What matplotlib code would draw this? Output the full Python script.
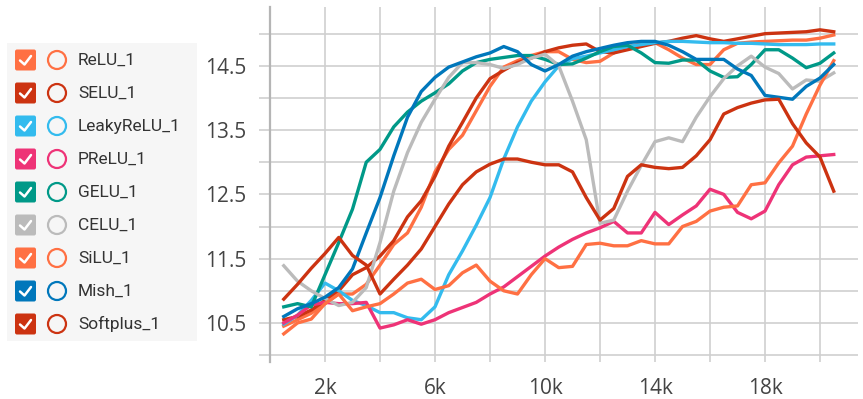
import numpy as np
import matplotlib
matplotlib.use("Agg")
import matplotlib.pyplot as plt
from matplotlib.patches import FancyBboxPatch, Circle, Rectangle

# training steps (thousands)
steps = np.arange(0.5, 20.51, 0.5)

relu = [10.45, 10.55, 10.65, 10.80, 10.95, 10.95, 11.10, 11.40, 11.72, 11.90,
        12.30, 12.85, 13.20, 13.42, 13.80, 14.18, 14.48, 14.58, 14.66, 14.72,
        14.72, 14.60, 14.55, 14.57, 14.70, 14.80, 14.84, 14.86, 14.75, 14.62,
        14.52, 14.52, 14.75, 14.85, 14.87, 14.88, 14.89, 14.90, 14.90, 14.93, 14.98]
selu = [10.55, 10.60, 10.70, 10.85, 11.00, 11.25, 11.36, 11.54, 11.78, 12.15,
        12.40, 12.78, 13.25, 13.62, 14.00, 14.30, 14.43, 14.55, 14.62, 14.72,
        14.78, 14.82, 14.84, 14.72, 14.70, 14.75, 14.80, 14.85, 14.88, 14.93,
        14.97, 14.92, 14.88, 14.92, 14.96, 15.00, 15.01, 15.02, 15.03, 15.06, 15.03]
leaky = [10.48, 10.62, 10.85, 11.12, 11.00, 10.85, 10.77, 10.66, 10.66, 10.58,
         10.55, 10.75, 11.25, 11.62, 12.02, 12.45, 13.05, 13.55, 13.95, 14.25,
         14.50, 14.61, 14.65, 14.70, 14.75, 14.80, 14.83, 14.86, 14.88, 14.88,
         14.87, 14.86, 14.86, 14.85, 14.85, 14.84, 14.83, 14.83, 14.83, 14.84, 14.84]
prelu = [10.50, 10.62, 10.78, 10.82, 10.80, 10.80, 10.82, 10.42, 10.47, 10.55,
         10.48, 10.55, 10.66, 10.74, 10.82, 10.95, 11.06, 11.22, 11.38, 11.54,
         11.68, 11.80, 11.90, 11.98, 12.08, 11.90, 11.90, 12.22, 12.03, 12.18,
         12.32, 12.58, 12.50, 12.22, 12.12, 12.24, 12.65, 12.96, 13.08, 13.10, 13.12]
gelu = [10.75, 10.80, 10.75, 11.25, 11.75, 12.27, 13.00, 13.20, 13.55, 13.78,
        13.95, 14.08, 14.22, 14.42, 14.55, 14.60, 14.63, 14.66, 14.66, 14.60,
        14.52, 14.53, 14.62, 14.72, 14.80, 14.82, 14.70, 14.55, 14.54, 14.59,
        14.59, 14.42, 14.32, 14.33, 14.52, 14.75, 14.75, 14.62, 14.47, 14.54, 14.70]
celu = [11.39, 11.15, 11.00, 10.88, 10.77, 10.82, 11.05, 11.75, 12.55, 13.15,
        13.62, 13.98, 14.32, 14.55, 14.55, 14.52, 14.46, 14.52, 14.62, 14.68,
        14.50, 13.95, 13.35, 12.05, 12.10, 12.55, 12.95, 13.32, 13.38, 13.32,
        13.70, 14.02, 14.30, 14.50, 14.65, 14.48, 14.38, 14.14, 14.28, 14.26, 14.39]
silu = [10.33, 10.50, 10.56, 10.80, 10.95, 10.69, 10.75, 10.80, 10.95, 11.12,
        11.18, 11.02, 11.08, 11.28, 11.40, 11.15, 11.00, 10.95, 11.25, 11.50,
        11.36, 11.38, 11.72, 11.74, 11.70, 11.70, 11.78, 11.73, 11.73, 12.00,
        12.08, 12.24, 12.30, 12.32, 12.65, 12.68, 12.99, 13.25, 13.75, 14.20, 14.58]
mish = [10.60, 10.72, 10.80, 10.90, 11.05, 11.34, 11.90, 12.45, 13.10, 13.70,
        14.10, 14.32, 14.48, 14.56, 14.64, 14.70, 14.80, 14.72, 14.52, 14.42,
        14.52, 14.65, 14.72, 14.77, 14.82, 14.86, 14.88, 14.88, 14.82, 14.72,
        14.60, 14.60, 14.60, 14.45, 14.35, 14.04, 14.01, 13.98, 14.18, 14.31, 14.52]
softplus = [10.87, 11.10, 11.35, 11.58, 11.83, 11.55, 11.40, 10.95, 11.18, 11.40,
            11.65, 12.00, 12.35, 12.65, 12.85, 12.97, 13.05, 13.05, 13.00, 12.96,
            12.96, 12.85, 12.45, 12.10, 12.28, 12.78, 12.96, 12.92, 12.90, 12.92,
            13.10, 13.35, 13.75, 13.85, 13.92, 13.97, 13.98, 13.60, 13.30, 13.08, 12.55]

names = ["ReLU_1", "SELU_1", "LeakyReLU_1", "PReLU_1", "GELU_1",
         "CELU_1", "SiLU_1", "Mish_1", "Softplus_1"]
series = [relu, selu, leaky, prelu, gelu, celu, silu, mish, softplus]
colors = ["#ff7043", "#cc3311", "#33bbee", "#ee3377", "#009988",
          "#bbbbbb", "#ff7043", "#0077bb", "#cc3311"]

yticks = [10.0, 10.5, 11.0, 11.5, 12.0, 12.5, 13.0, 13.5, 14.0, 14.5, 15.0]
ylabels = ["", "10.5", "", "11.5", "", "12.5", "", "13.5", "", "14.5", ""]
xticks = [2, 4, 6, 8, 10, 12, 14, 16, 18, 20]
xlabels = ["2k", "", "6k", "", "10k", "", "14k", "", "18k", ""]

W, H = 863, 399
fig = plt.figure(figsize=(W / 100, H / 100), dpi=100)
fig.patch.set_facecolor("white")

grid_c = "#cfcfcf"
ax = fig.add_axes([270 / W, (H - 361.5) / H, 588 / W, (361.5 - 7) / H])
ax.set_xlim(0, 588 / 27.5)
ax.set_ylim(9.9, 15.415)
ax.set_yticks(yticks)
ax.set_yticklabels(ylabels)
ax.set_xticks(xticks)
ax.set_xticklabels(xlabels)
ax.grid(True, color=grid_c, linewidth=1.2)
ax.set_axisbelow(True)
for s in ["top", "right", "bottom"]:
    ax.spines[s].set_visible(False)
ax.spines["left"].set_color("#b5b5b5")
ax.spines["left"].set_linewidth(1.6)
ax.tick_params(axis="y", length=8, width=1.2, color=grid_c, pad=9,
               labelsize=15, labelcolor="#444444")
ax.tick_params(axis="x", length=0, pad=12, labelsize=15, labelcolor="#444444")
for lab in ax.get_xticklabels() + ax.get_yticklabels():
    lab.set_fontfamily("Open Sans")

for ys, c in zip(series, colors):
    ax.plot(steps, ys, color=c, linewidth=2.4, solid_joinstyle="round")

# legend panel on the left (pixel coordinates)
lax = fig.add_axes([0, 0, 1, 1], zorder=-1)
lax.set_xlim(0, W)
lax.set_ylim(H, 0)
lax.axis("off")
lax.add_patch(Rectangle((7, 43), 190, 298, facecolor="#f6f6f6", edgecolor="none"))
for i, (name, c) in enumerate(zip(names, colors)):
    yc = 60 + i * 33
    lax.add_patch(FancyBboxPatch((15, yc - 10.5), 21, 21,
                                 boxstyle="round,pad=0,rounding_size=2",
                                 facecolor=c, edgecolor="none"))
    lax.plot([20, 24.5, 31], [yc + 0.5, yc + 4.5, yc - 4], color="white",
             linewidth=1.8, solid_capstyle="round")
    lax.add_patch(Circle((57, yc), 9, facecolor="none", edgecolor=c, linewidth=1.6))
    lax.text(78, yc, name, fontsize=12.5, color="#333333", va="center",
             ha="left", family="Roboto")

fig.savefig("out.png", dpi=100)
